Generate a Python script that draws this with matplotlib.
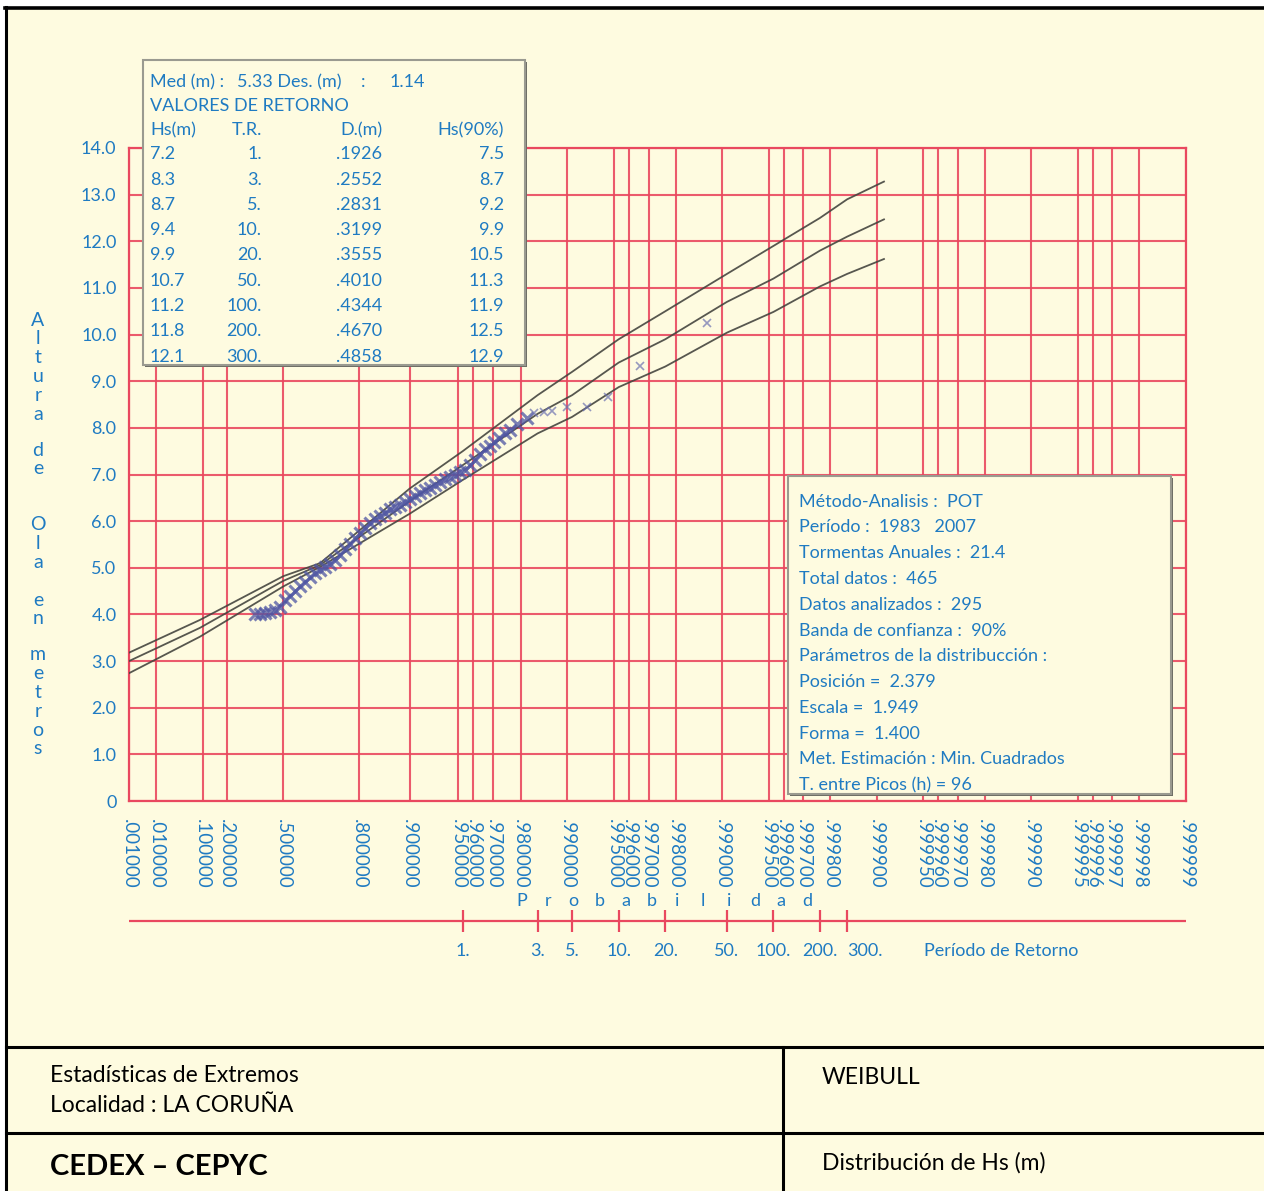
import numpy as np
import matplotlib.pyplot as plt
from matplotlib.patches import Rectangle
from matplotlib.lines import Line2D

plt.rcParams['font.family'] = ['Lato', 'DejaVu Sans']

BLUE = '#1f7bc2'
RED = '#e9485f'
CREAM = '#fefbe0'
W, H = 1264, 1191

# probability paper ticks
prob_ticks = [0.001, 0.01, 0.1, 0.2, 0.5, 0.8, 0.9, 0.95, 0.96, 0.97, 0.98,
              0.99, 0.995, 0.996, 0.997, 0.998, 0.999, 0.9995, 0.9996, 0.9997,
              0.9998, 0.9999, 0.99995, 0.99996, 0.99997, 0.99998, 0.99999,
              0.999995, 0.999996, 0.999997, 0.999998, 0.999999]
hs_ticks = list(range(15))

# return values table
storms_per_year = 21.4
return_periods = [1, 3, 5, 10, 20, 50, 100, 200, 300]
hs_ret = [7.2, 8.3, 8.7, 9.4, 9.9, 10.7, 11.2, 11.8, 12.1]
dev_ret = [.1926, .2552, .2831, .3199, .3555, .4010, .4344, .4670, .4858]
hs90_ret = [7.5, 8.7, 9.2, 9.9, 10.5, 11.3, 11.9, 12.5, 12.9]

# fitted curve and 90% band below T=1 and at the end of the curve
fit_prob_low = [0.001, 0.09, 0.5, 0.67, 0.9]
fit_mid_low = [3.00, 3.71, 4.72, 5.06, 6.43]
fit_up_low = [3.18, 3.88, 4.82, 5.10, 6.70]
fit_dn_low = [2.74, 3.52, 4.60, 5.02, 6.16]
fit_prob_end = [0.99991]
fit_mid_end = [12.47]
fit_up_end = [13.28]
fit_dn_end = [11.62]

# observed storm peaks (sorted) and their non-exceedance probability
obs_prob = [0.3467, 0.3741, 0.4014, 0.4285, 0.4554, 0.4818, 0.5077, 0.5330,
            0.5576, 0.5814, 0.6045, 0.6267, 0.6481, 0.6685, 0.6881, 0.7068,
            0.7246, 0.7415, 0.7576, 0.7728, 0.7873, 0.8008, 0.8137, 0.8258,
            0.8373, 0.8480, 0.8580, 0.8675, 0.8764, 0.8847, 0.8925, 0.8999,
            0.9067, 0.9131, 0.9191, 0.9246, 0.9299, 0.9347, 0.9392, 0.9435,
            0.9474, 0.9511, 0.9546, 0.9577, 0.9607, 0.9635, 0.9660, 0.9684,
            0.9706, 0.9727, 0.9747, 0.9765, 0.9788, 0.9819, 0.9837, 0.9859,
            0.9875, 0.9900, 0.99246, 0.99448, 0.99657, 0.99875]
obs_hs = [4.00, 4.00, 4.02, 4.05, 4.10, 4.15, 4.30, 4.40, 4.50, 4.60, 4.70,
          4.80, 4.88, 4.95, 5.02, 5.08, 5.17, 5.28, 5.40, 5.52, 5.63, 5.74,
          5.85, 5.95, 6.05, 6.12, 6.18, 6.25, 6.30, 6.35, 6.42, 6.48, 6.54,
          6.60, 6.66, 6.72, 6.78, 6.84, 6.90, 6.95, 7.00, 7.05, 7.10, 7.20,
          7.32, 7.45, 7.55, 7.62, 7.70, 7.78, 7.88, 7.95, 8.08, 8.22, 8.32,
          8.35, 8.37, 8.45, 8.45, 8.66, 9.32, 10.24]

info_lines = ['Método-Analisis :  POT', 'Período :  1983   2007',
              'Tormentas Anuales :  21.4', 'Total datos :  465',
              'Datos analizados :  295', 'Banda de confianza :  90%',
              'Parámetros de la distribucción :', 'Posición =  2.379',
              'Escala =  1.949', 'Forma =  1.400',
              'Met. Estimación : Min. Cuadrados', 'T. entre Picos (h) = 96']


def gumbel(p):
    # reduced variate of the probability paper
    return -np.log(-np.log(np.asarray(p, dtype=float)))


def fx(px):
    return px / W


def fy(py):
    return 1 - py / H


fig = plt.figure(figsize=(W / 100, H / 100), dpi=100, facecolor='white')
fig.add_artist(Rectangle((fx(6), 0), 1 - fx(6), fy(8), transform=fig.transFigure,
                         facecolor=CREAM, edgecolor='none', zorder=-5))

ax = fig.add_axes([fx(129), fy(801), (1186 - 129) / W, (801 - 148) / H])
ax.set_facecolor(CREAM)
ax.set_xlim(gumbel(0.001), gumbel(0.999999))
ax.set_ylim(0, 14)
ax.set_xticks(gumbel(prob_ticks))
ax.set_xticklabels([('%.6f' % p)[1:] for p in prob_ticks],
                   rotation=270, fontsize=13.5, color=BLUE)
ax.set_yticks(hs_ticks)
ax.set_yticklabels(['%.1f' % v if v else '0' for v in hs_ticks],
                   fontsize=13, color=BLUE)
ax.tick_params(axis='x', length=0, pad=13)
ax.tick_params(axis='y', length=0, pad=9)
ax.grid(True, color=RED, lw=1.5, alpha=0.9)
for s in ax.spines.values():
    s.set_color(RED)
    s.set_linewidth(1.6)

# fitted curve with 90% band (lower limit from the standard deviation column)
fit_prob = fit_prob_low + [1 - 1 / (storms_per_year * t) for t in return_periods] + fit_prob_end
fit_mid = fit_mid_low + hs_ret + fit_mid_end
fit_up = fit_up_low + hs90_ret + fit_up_end
fit_dn = fit_dn_low + [m - 1.645 * d for m, d in zip(hs_ret, dev_ret)] + fit_dn_end
for curve in (fit_up, fit_mid, fit_dn):
    ax.plot(gumbel(fit_prob), curve, color='#45453f', lw=1.3, alpha=0.9, zorder=3)

# dense body of the sample, then the few largest storms
n_dense = 54
ax.plot(gumbel(obs_prob[:n_dense]), obs_hs[:n_dense], ls='none', marker='x',
        ms=9, mew=2.2, color='#4e55a3', alpha=0.75, zorder=4)
ax.plot(gumbel(obs_prob[n_dense:]), obs_hs[n_dense:], ls='none', marker='x',
        ms=6, mew=1.2, color='#6a70b0', alpha=0.7, zorder=4)

# return period scale
axr = fig.add_axes([fx(129), fy(932), (1186 - 129) / W, 22 / H])
axr.set_xlim(ax.get_xlim())
axr.set_ylim(0, 1)
axr.axis('off')
axr.axhline(0.5, color=RED, lw=1.6)
rp_x = gumbel([1 - 1 / (storms_per_year * t) for t in return_periods])
axr.vlines(rp_x, 0, 1, color=RED, lw=1.6)
for xv, t in zip(rp_x, return_periods):
    axr.text(xv, -0.86, '%d.' % t, transform=axr.get_xaxis_transform(),
             ha='left' if t == 300 else 'center', va='center',
             fontsize=13, color=BLUE)
fig.text(fx(1001), fy(951), 'Período de Retorno', ha='center', va='center',
         fontsize=13, color=BLUE)

for i, ch in enumerate('Probabilidad'):
    fig.text(fx(522 + 25.9 * i), fy(901), ch, ha='center', va='center',
             fontsize=13, color=BLUE)

# vertical axis title, one letter per line
for word, top in [('Altura', 320), ('de', 450), ('Ola', 525), ('en', 600), ('metros', 655)]:
    for i, ch in enumerate(word):
        fig.text(fx(38), fy(top + 18.8 * i), ch, ha='center', va='center',
                 fontsize=14, color=BLUE)


def panel(x0, y0, x1, y1):
    fig.add_artist(Rectangle((fx(x0 + 2), fy(y1 + 2)), (x1 - x0) / W, (y1 - y0) / H,
                             transform=fig.transFigure, facecolor='#6e6e66',
                             edgecolor='none', zorder=5))
    fig.add_artist(Rectangle((fx(x0), fy(y1)), (x1 - x0) / W, (y1 - y0) / H,
                             transform=fig.transFigure, facecolor=CREAM,
                             edgecolor='#9a9a90', lw=1.5, zorder=6))


# return value table
panel(143, 60, 525, 365)
tk = dict(fontsize=13, color=BLUE, va='center', zorder=7)
fig.text(fx(150), fy(82), 'Med (m) :', **tk)
fig.text(fx(237), fy(82), '5.33 Des. (m)', **tk)
fig.text(fx(361), fy(82), ':', **tk)
fig.text(fx(390), fy(82), '1.14', **tk)
fig.text(fx(150), fy(106), 'VALORES DE RETORNO', **tk)
fig.text(fx(150), fy(130), 'Hs(m)', **tk)
fig.text(fx(262), fy(130), 'T.R.', ha='right', **tk)
fig.text(fx(382), fy(130), 'D.(m)', ha='right', **tk)
fig.text(fx(504), fy(130), 'Hs(90%)', ha='right', **tk)
for i, (hs, t, d, h90) in enumerate(zip(hs_ret, return_periods, dev_ret, hs90_ret)):
    yy = fy(154.3 + 25.3 * i)
    fig.text(fx(150), yy, '%.1f' % hs, **tk)
    fig.text(fx(262), yy, '%d.' % t, ha='right', **tk)
    fig.text(fx(382), yy, ('%.4f' % d)[1:], ha='right', **tk)
    fig.text(fx(504), yy, '%.1f' % h90, ha='right', **tk)

# analysis info
panel(788, 476, 1171, 794)
for i, line in enumerate(info_lines):
    fig.text(fx(799), fy(501.7 + 25.76 * i), line, **tk)

# frame and title block
black = dict(color='black', transform=fig.transFigure, zorder=10)
fig.add_artist(Line2D([fx(5), 1], [fy(8), fy(8)], lw=2.6, **black))
fig.add_artist(Line2D([fx(6), fx(6)], [0, fy(7)], lw=2.2, **black))
fig.add_artist(Line2D([fx(6), 1], [fy(1047), fy(1047)], lw=2.2, **black))
fig.add_artist(Line2D([fx(6), 1], [fy(1133), fy(1133)], lw=2.2, **black))
fig.add_artist(Line2D([fx(783), fx(783)], [0, fy(1047)], lw=2.2, **black))

bt = dict(color='black', va='center', fontsize=16.5)
fig.text(fx(50), fy(1075), 'Estadísticas de Extremos', **bt)
fig.text(fx(50), fy(1106), 'Localidad : LA CORUÑA', **bt)
fig.text(fx(822), fy(1078), 'WEIBULL', **bt)
fig.text(fx(822), fy(1163), 'Distribución de Hs (m)', **bt)
fig.text(fx(50), fy(1167), 'CEDEX – CEPYC', color='black', va='center',
         fontsize=21, fontweight='bold')

fig.savefig('out.png', dpi=100, facecolor='white')
